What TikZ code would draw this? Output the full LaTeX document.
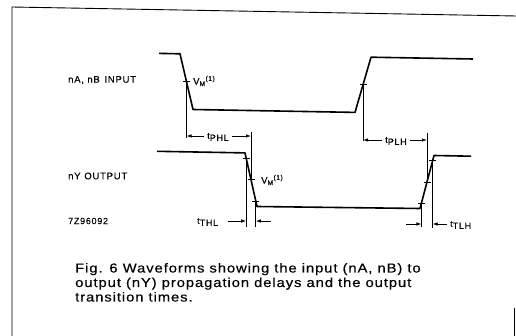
\documentclass[tikz,border=0pt]{standalone}
\usepackage{fontspec}
\setmainfont{Liberation Sans}
\newfontfamily\lblfont[LetterSpace=8,FakeBold=0.25]{Liberation Sans}
\newfontfamily\capfont[FakeStretch=1.14,LetterSpace=7,FakeBold=0.35]{Liberation Sans}
\usetikzlibrary{arrows.meta,calc}
\newcommand\tlab[1]{t\raisebox{-2pt}{#1}}
\begin{document}
\begin{tikzpicture}[x=1pt,y=-1pt,
  wave/.style={line width=1.6pt,line join=round},
  dimln/.style={line width=0.7pt},
  arr/.style={-{Latex[length=5pt,width=3.4pt]},line width=0.7pt},
  tck/.style={line width=0.9pt},
  lbl/.style={font=\lblfont\fontsize{9.5}{11}\selectfont,inner sep=0pt},
  tl/.style={font=\lblfont\fontsize{9}{10}\selectfont,inner sep=0pt},
  captxt/.style={font=\capfont\fontsize{13}{14.5}\selectfont,inner sep=0pt,anchor=base west}]
\useasboundingbox (0,0) rectangle (516,336);
% frame
\coordinate (f1) at (12,336); \coordinate (f2) at (12,7); \coordinate (f3) at (516,16);
\draw[line width=0.9pt] (f1) -- (f2) -- (f3);
\coordinate (r1) at (514.5,308); \coordinate (r2) at (514.5,336);
\draw[line width=0.9pt] (r1) -- (r2);
% input waveform
\coordinate (i0) at (159,53.4); \coordinate (i1) at (180,53.8);
\coordinate (i2) at (193,109.5); \coordinate (i3) at (355,112.4);
\coordinate (i4) at (371,57.2); \coordinate (i5) at (473,59);
\draw[wave] (i0) -- (i1) -- (i2) -- (i3) -- (i4) -- (i5);
% output waveform
\coordinate (o0) at (157,151.3); \coordinate (o1) at (245,152.9);
\coordinate (o2) at (257,206.5); \coordinate (o3) at (420,208.5);
\coordinate (o4) at (434,155.5); \coordinate (o5) at (471,156.2);
\draw[wave] (o0) -- (o1) -- (o2) -- (o3) -- (o4) -- (o5);
% marker points
\coordinate (vi1) at ($(i1)!0.5!(i2)$);
\coordinate (vi2) at ($(i3)!0.5!(i4)$);
\coordinate (a90) at ($(o1)!0.1!(o2)$);
\coordinate (a50) at ($(o1)!0.5!(o2)$);
\coordinate (a10) at ($(o1)!0.9!(o2)$);
\coordinate (b10) at ($(o3)!0.1!(o4)$);
\coordinate (b50) at ($(o3)!0.5!(o4)$);
\coordinate (b90) at ($(o3)!0.9!(o4)$);
\foreach \p in {vi1,vi2,a90,a50,a10,b10,b50,b90}
  \draw[tck] ($(\p)+(-3.5,0)$) -- ($(\p)+(3.5,0)$);
% tPHL
\coordinate (p1) at (vi1 |- 0,138); \coordinate (p2) at (a50 |- 0,132);
\draw[dimln] (vi1) -- (p1);
\draw[dimln] (p2) -- (a50);
\coordinate (p1a) at (vi1 |- 0,136); \coordinate (p2a) at (a50 |- 0,136);
\node[tl] (tphl) at (218,137) {\tlab{PHL}};
\draw[arr] (tphl.west) ++(-3,-1) coordinate (q1) (q1) -- (p1a);
\draw[arr] (tphl.east) ++(3,-1) coordinate (q2) (q2) -- (p2a);
% tPLH
\coordinate (p3) at (vi2 |- 0,141); \coordinate (p4) at (b50 |- 0,133);
\draw[dimln] (vi2) -- (p3);
\draw[dimln] (p4) -- (b50);
\coordinate (p3a) at (vi2 |- 0,140); \coordinate (p4a) at (b50 |- 0,140);
\node[tl] (tplh) at (396,141) {\tlab{PLH}};
\draw[arr] (tplh.west) ++(-3,-1) coordinate (q3) (q3) -- (p3a);
\draw[arr] (tplh.east) ++(3,-1) coordinate (q4) (q4) -- (p4a);
% tTHL
\coordinate (p5) at (a90 |- 0,227); \coordinate (p6) at (a10 |- 0,227);
\draw[dimln] (a90) -- (p5);
\draw[dimln] (a10) -- (p6);
\coordinate (p5a) at (a90 |- 0,221); \coordinate (p6a) at (a10 |- 0,221);
\node[tl,anchor=west] (tthl) at (197,222) {\tlab{THL}};
\coordinate (q5) at (228,221); \coordinate (q6) at (271,221);
\draw[arr] (q5) -- (p5a);
\draw[arr] (q6) -- (p6a);
% tTLH
\coordinate (p7) at (b10 |- 0,227); \coordinate (p8) at (b90 |- 0,228);
\draw[dimln] (b10) -- (p7);
\draw[dimln] (b90) -- (p8);
\coordinate (p7a) at (b10 |- 0,224); \coordinate (p8a) at (b90 |- 0,224);
\coordinate (q7) at (406,224); \coordinate (q8) at (447,224);
\draw[arr] (q7) -- (p7a);
\draw[arr] (q8) -- (p8a);
\node[tl,anchor=west] (ttlh) at (450,225) {\tlab{TLH}};
% VM labels
\node[lbl,anchor=west] (vm1) at (193,81) {V\textsubscript{M}\textsuperscript{(1)}};
\node[lbl,anchor=west] (vm2) at (261,180) {V\textsubscript{M}\textsuperscript{(1)}};
% left labels
\node[lbl,anchor=west] (lin) at (68,80) {nA, nB\hspace{0.5em}INPUT};
\node[lbl,anchor=west] (lout) at (68,176) {nY\hspace{0.4em}OUTPUT};
\node[lbl,anchor=west,font=\lblfont\fontsize{9}{10}\selectfont] (code) at (68,221) {7Z96092};
% caption
\node[captxt] (c1) at (75,272.5) {Fig. 6\hspace{0.4em}Waveforms showing the input (nA, nB) to};
\node[captxt] (c2) at (75,287) {output (nY) propagation delays and the output};
\node[captxt] (c3) at (75,301.5) {transition times.};
\end{tikzpicture}
\end{document}
